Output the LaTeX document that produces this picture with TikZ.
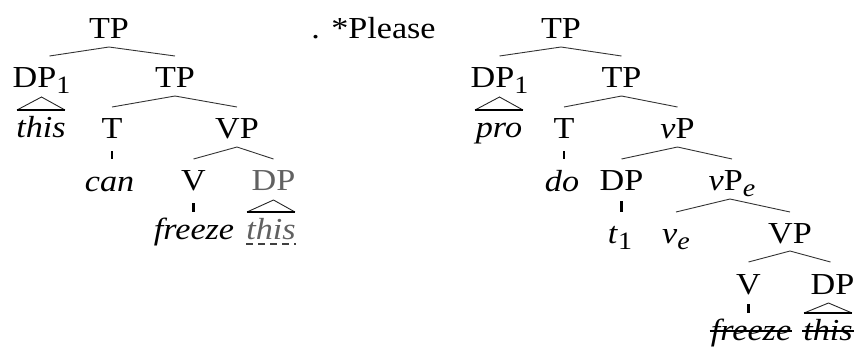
\documentclass[tikz,border=0pt]{standalone}
\usepackage{fontspec}
\setmainfont{Liberation Serif}[FakeStretch=1.12]
\usetikzlibrary{calc}
\newcommand\mysub[1]{\raisebox{-6pt}{\fontsize{25}{25}\selectfont #1}}
\begin{document}
\begin{tikzpicture}[x=1pt,y=-1pt,
  lbl/.style={anchor=base,inner sep=0pt,font=\fontsize{30.5}{36}\selectfont},
  it/.style={lbl,font=\fontsize{30.5}{36}\selectfont\itshape},
  ghost/.style={text=black!62},
  branch/.style={line width=0.9pt,black!80},
  tickmark/.style={line width=2.8pt},
  roof/.style={line width=0.9pt,black!85},
  roofbase/.style={line width=2.8pt},
  strike/.style={line width=2pt},
  dashline/.style={line width=2pt,dash pattern=on 7pt off 5pt,black!75},
]
\useasboundingbox (0,0) rectangle (855,349);
% left tree
\node[lbl] (L1) at (109,38) {TP};
\node[lbl] (P) at (373.5,38) {. *Please};
\node[lbl] (L2) at (41.5,87) {DP\mysub{1}};
\node[lbl] (L3) at (175,87) {TP};
\node[it] (L4) at (41,137) {this};
\node[lbl] (L5) at (112,138) {T};
\node[lbl] (L6) at (237,138) {VP};
\node[it] (L7) at (109.5,191) {can};
\node[lbl] (L8) at (193.5,190) {V};
\node[lbl,ghost] (L9) at (273.5,190) {DP};
\node[it] (L10) at (194,239) {freeze};
\node[it,ghost] (L11) at (271,239) {this};
% right tree
\node[lbl] (R1) at (561,38) {TP};
\node[lbl] (R2) at (499.5,87) {DP\mysub{1}};
\node[lbl] (R3) at (621.5,87) {TP};
\node[it] (R4) at (499,137) {pro};
\node[lbl] (R5) at (564,138) {T};
\node[lbl] (R6) at (677.5,138) {\textit{ν}P};
\node[it] (R7) at (562,191) {do};
\node[lbl] (R8) at (621.5,190) {DP};
\node[lbl] (R9) at (732,190) {\textit{ν}P\mysub{\textit{e}}};
\node[lbl] (R10) at (620,243) {\textit{t}\mysub{1}};
\node[lbl] (R11) at (676,243) {\textit{ν}\mysub{\textit{e}}};
\node[lbl] (R12) at (790,243) {VP};
\node[lbl] (R13) at (748.5,294) {V};
\node[lbl] (R14) at (832.5,294) {DP};
\node[it] (R15) at (751,340) {freeze};
\node[it] (R16) at (828,340) {this};
% branches left
\draw[branch] ($(L2.base)+(8,-31)$) -- ($(L1.base)+(0,9)$) -- ($(L3.base)+(0,-31)$);
\draw[branch] ($(L5.base)+(0,-31)$) -- ($(L3.base)+(0,9)$) -- ($(L6.base)+(0,-31)$);
\draw[branch] ($(L8.base)+(0,-31)$) -- ($(L6.base)+(0,9)$) -- ($(L9.base)+(0,-31)$);
\draw[tickmark] ($(L5.base)+(0,13)$) -- ($(L5.base)+(0,21)$);
\draw[tickmark] ($(L8.base)+(0,13)$) -- ($(L8.base)+(0,22)$);
\draw[roof] ($(L4.base)+(-24,-27)$) -- ($(L2.base)+(0,10)$) -- ($(L4.base)+(24,-27)$);
\draw[roofbase] ($(L4.base)+(-24,-27)$) -- ($(L4.base)+(24,-27)$);
\draw[roof] ($(L11.base)+(-24,-27)$) -- ($(L9.base)+(0,10)$) -- ($(L11.base)+(24,-27)$);
\draw[roofbase] ($(L11.base)+(-24,-27)$) -- ($(L11.base)+(24,-27)$);
\draw[dashline] ($(L11.base west)+(0,5)$) -- ($(L11.base east)+(0,5)$);
% branches right
\draw[branch] ($(R2.base)+(0,-31)$) -- ($(R1.base)+(0,9)$) -- ($(R3.base)+(0,-31)$);
\draw[branch] ($(R5.base)+(0,-31)$) -- ($(R3.base)+(0,9)$) -- ($(R6.base)+(0,-31)$);
\draw[branch] ($(R8.base)+(0,-31)$) -- ($(R6.base)+(0,9)$) -- ($(R9.base)+(0,-31)$);
\draw[branch] ($(R11.base)+(0,-31)$) -- ($(R9.base)+(-2,9)$) -- ($(R12.base)+(0,-31)$);
\draw[branch] ($(R13.base)+(0,-32)$) -- ($(R12.base)+(0,8)$) -- ($(R14.base)+(-2,-32)$);
\draw[tickmark] ($(R5.base)+(0,13)$) -- ($(R5.base)+(0,21)$);
\draw[tickmark] ($(R8.base)+(0,11)$) -- ($(R8.base)+(0,22)$);
\draw[tickmark] ($(R13.base)+(0,10)$) -- ($(R13.base)+(0,19)$);
\draw[roof] ($(R4.base)+(-24,-27)$) -- ($(R2.base)+(0,10)$) -- ($(R4.base)+(24,-27)$);
\draw[roofbase] ($(R4.base)+(-24,-27)$) -- ($(R4.base)+(24,-27)$);
\draw[roof] ($(R16.base)+(-24,-27)$) -- ($(R14.base)+(-4,9)$) -- ($(R16.base)+(24,-27)$);
\draw[roofbase] ($(R16.base)+(-24,-27)$) -- ($(R16.base)+(24,-27)$);
\draw[strike] ($(R15.base west)+(-1,-9)$) -- ($(R15.base east)+(1,-9)$);
\draw[strike] ($(R16.base west)+(-1,-9)$) -- ($(R16.base east)+(1,-9)$);
\end{tikzpicture}
\end{document}
